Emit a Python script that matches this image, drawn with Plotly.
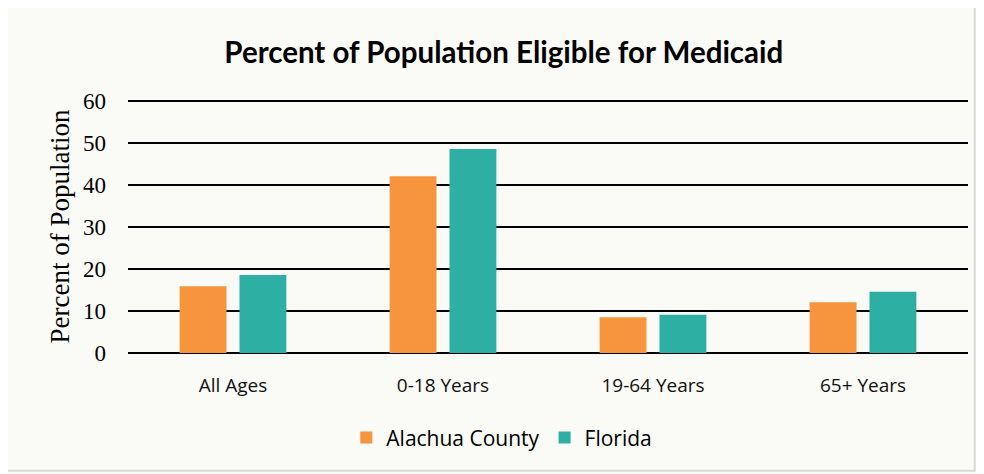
import plotly.graph_objects as go

categories = ["All Ages", "0-18 Years", "19-64 Years", "65+ Years"]
alachua = [15.9, 42.1, 8.5, 12.1]
florida = [18.6, 48.6, 9.1, 14.6]
y_ticks = [0, 10, 20, 30, 40, 50, 60]

fig = go.Figure()
fig.add_trace(go.Bar(x=categories, y=alachua, name="Alachua County",
                     marker=dict(color="#F7943E", line=dict(width=0))))
fig.add_trace(go.Bar(x=categories, y=florida, name="Florida",
                     marker=dict(color="#2EAFA4", line=dict(width=0))))

W, H = 976, 466
fig.update_layout(
    width=W, height=H,
    paper_bgcolor="#FAFAF6", plot_bgcolor="#FAFAF6",
    margin=dict(l=120, r=16, t=92, b=121),
    barmode="group", bargap=0.43, bargroupgap=0.217,
    title=dict(text="<b>Percent of Population Eligible for Medicaid</b>",
               x=0.508, xanchor="center", y=0.905, yanchor="middle",
               font=dict(family="Lato", size=29.5, color="#000000")),
    xaxis=dict(showgrid=False, showline=False, ticks="", ticklabelstandoff=19,
               tickfont=dict(family="Open Sans", size=19, color="#111111")),
    yaxis=dict(range=[0, 60.3], tickvals=y_ticks, showgrid=True,
               gridcolor="#000000", gridwidth=2, zeroline=True,
               zerolinecolor="#000000", zerolinewidth=2, showline=False,
               ticks="", ticklabelstandoff=21,
               tickfont=dict(family="Liberation Serif", size=23, color="#000000"),
               title=dict(text="Percent of Population", standoff=5,
                          font=dict(family="Liberation Serif", size=27, color="#000000"))),
    legend=dict(orientation="h", x=0.445, xanchor="center", y=-0.335, yanchor="middle",
                font=dict(family="Open Sans", size=21, color="#000000"),
                itemwidth=30, bgcolor="rgba(0,0,0,0)"),
    shapes=[dict(type="rect", xref="paper", yref="paper",
                 x0=-0.148, x1=1.008, y0=-0.465, y1=1.37,
                 line=dict(color="#D9D9D9", width=2))],
)

fig.write_html("out.html")
